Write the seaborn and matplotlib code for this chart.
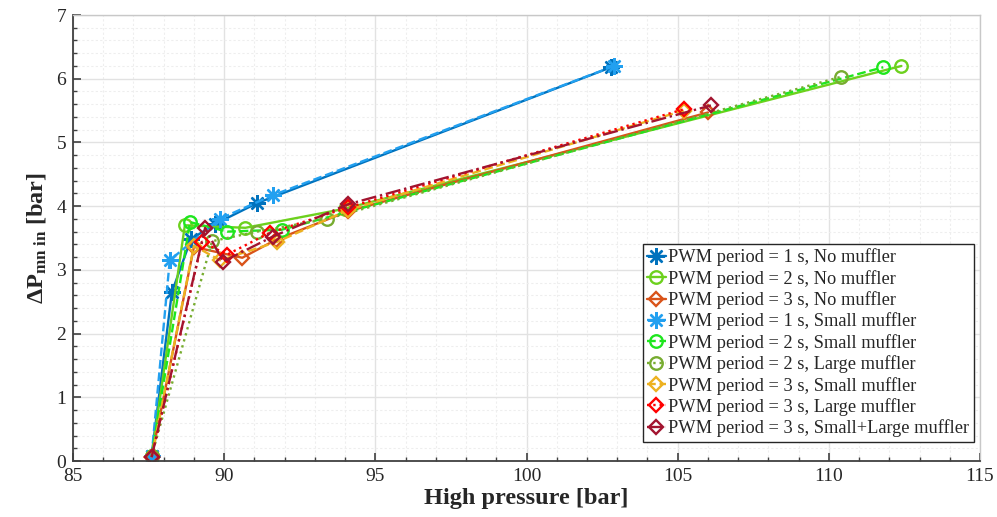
import numpy as np
import pandas as pd
import matplotlib
matplotlib.use("Agg")
import matplotlib.pyplot as plt
from matplotlib.ticker import MultipleLocator
import seaborn as sns

# Measured operating points: high pressure [bar] vs. pressure drop [bar]
hp_1s_none = [87.6, 88.27, 88.9, 89.7, 91.1, 102.8]
dp_1s_none = [0.08, 2.65, 3.48, 3.72, 4.05, 6.18]

hp_2s_none = [87.6, 88.7, 90.7, 94.0, 112.4]
dp_2s_none = [0.08, 3.70, 3.66, 3.96, 6.20]

hp_3s_none = [87.6, 89.0, 90.6, 91.7, 94.1, 106.0]
dp_3s_none = [0.06, 3.36, 3.19, 3.47, 3.92, 5.47]

hp_1s_small = [87.6, 88.2, 89.85, 91.6, 102.9]
dp_1s_small = [0.08, 3.15, 3.80, 4.17, 6.20]

hp_2s_small = [87.6, 88.87, 90.1, 91.9, 111.8]
dp_2s_small = [0.08, 3.75, 3.60, 3.63, 6.18]

hp_2s_large = [87.6, 89.6, 91.1, 93.4, 110.4]
dp_2s_large = [0.08, 3.45, 3.60, 3.80, 6.03]

hp_3s_small = [87.6, 89.0, 89.86, 91.75, 94.1, 105.2]
dp_3s_small = [0.06, 3.38, 3.15, 3.44, 3.94, 5.50]

hp_3s_large = [87.6, 89.27, 90.1, 91.5, 94.1, 105.2]
dp_3s_large = [0.06, 3.44, 3.24, 3.58, 3.98, 5.52]

hp_3s_both = [87.6, 89.37, 89.96, 91.6, 94.1, 106.1]
dp_3s_both = [0.06, 3.66, 3.13, 3.52, 4.03, 5.58]

labels = [
    "PWM period = 1 s, No muffler",
    "PWM period = 2 s, No muffler",
    "PWM period = 3 s, No muffler",
    "PWM period = 1 s, Small muffler",
    "PWM period = 2 s, Small muffler",
    "PWM period = 2 s, Large muffler",
    "PWM period = 3 s, Small muffler",
    "PWM period = 3 s, Large muffler",
    "PWM period = 3 s, Small+Large muffler",
]
series_x = [hp_1s_none, hp_2s_none, hp_3s_none, hp_1s_small, hp_2s_small,
            hp_2s_large, hp_3s_small, hp_3s_large, hp_3s_both]
series_y = [dp_1s_none, dp_2s_none, dp_3s_none, dp_1s_small, dp_2s_small,
            dp_2s_large, dp_3s_small, dp_3s_large, dp_3s_both]

colors = ["#0072BD", "#6DD11E", "#D95319", "#22A0F0", "#1EE61E",
          "#77AC30", "#EDB120", "#FF0000", "#A2142F"]
styles = ["-", "-", "-", "--", "--", ":", "--", ":", "-."]
star = (8, 2, 0)
markers = [star, "o", "D", star, "o", "o", "D", "D", "D"]
msizes = [12, 9, 7, 12, 9, 9, 7, 7, 7]

sns.set_theme(style="white")
plt.rcParams["font.family"] = ["Liberation Serif", "DejaVu Serif"]
plt.rcParams["mathtext.fontset"] = "custom"
plt.rcParams["mathtext.rm"] = "Liberation Serif:bold"
plt.rcParams["mathtext.it"] = "Liberation Serif:bold"
plt.rcParams["mathtext.bf"] = "Liberation Serif:bold"

fig = plt.figure(figsize=(9.97, 5.17), dpi=100)
ax = fig.add_axes([73 / 997, 1 - 461 / 517, 907 / 997, 446 / 517])

for xs, ys, lab, c, ls, m, ms in zip(series_x, series_y, labels, colors,
                                      styles, markers, msizes):
    df = pd.DataFrame({"hp": xs, "dp": ys})
    sns.lineplot(data=df, x="hp", y="dp", ax=ax, sort=False, estimator=None,
                 color=c, linestyle=ls, linewidth=1.7, marker=m,
                 markersize=ms, markerfacecolor="none", markeredgecolor=c,
                 markeredgewidth=1.7, label=lab)

ax.set_xlim(85, 115)
ax.set_ylim(0, 7)
ax.xaxis.set_major_locator(MultipleLocator(5))
ax.xaxis.set_minor_locator(MultipleLocator(1))
ax.yaxis.set_major_locator(MultipleLocator(1))
ax.yaxis.set_minor_locator(MultipleLocator(0.2))

ax.grid(True, which="major", color="#e2e2e2", linewidth=1.0, linestyle="-")
ax.grid(True, which="minor", color="#eeeeee", linewidth=0.8, linestyle=(0, (2, 2)))
ax.set_axisbelow(True)

ax.tick_params(axis="both", which="major", direction="in", length=6, width=1.2,
               color="#404040", labelsize=14, labelcolor="#262626", pad=5,
               bottom=True, left=True, top=False, right=False)
ax.tick_params(axis="both", which="minor", direction="in", length=3, width=1.0,
               color="#404040", bottom=True, left=True, top=False, right=False)

for side in ["left", "bottom"]:
    ax.spines[side].set_color("#404040")
    ax.spines[side].set_linewidth(1.3)
for side in ["top", "right"]:
    ax.spines[side].set_color("#c8c8c8")
    ax.spines[side].set_linewidth(1.0)

ax.set_xlabel("High pressure [bar]", fontsize=17.5, fontweight="bold", labelpad=2)
ax.set_ylabel(r"ΔP$_{\mathrm{mn\ in}}$ [bar]", fontsize=17.5, fontweight="bold",
              labelpad=6)

leg = ax.legend(loc="lower left", bbox_to_anchor=(0.628, 0.043),
                borderaxespad=0, fontsize=13.2, frameon=True, fancybox=False,
                edgecolor="#262626", handlelength=1.0, handletextpad=0.15,
                labelspacing=0.19, borderpad=0.25)
leg.get_frame().set_linewidth(1.0)
leg.get_frame().set_facecolor("white")
leg.get_frame().set_alpha(1.0)

fig.savefig("out.png", dpi=100)
